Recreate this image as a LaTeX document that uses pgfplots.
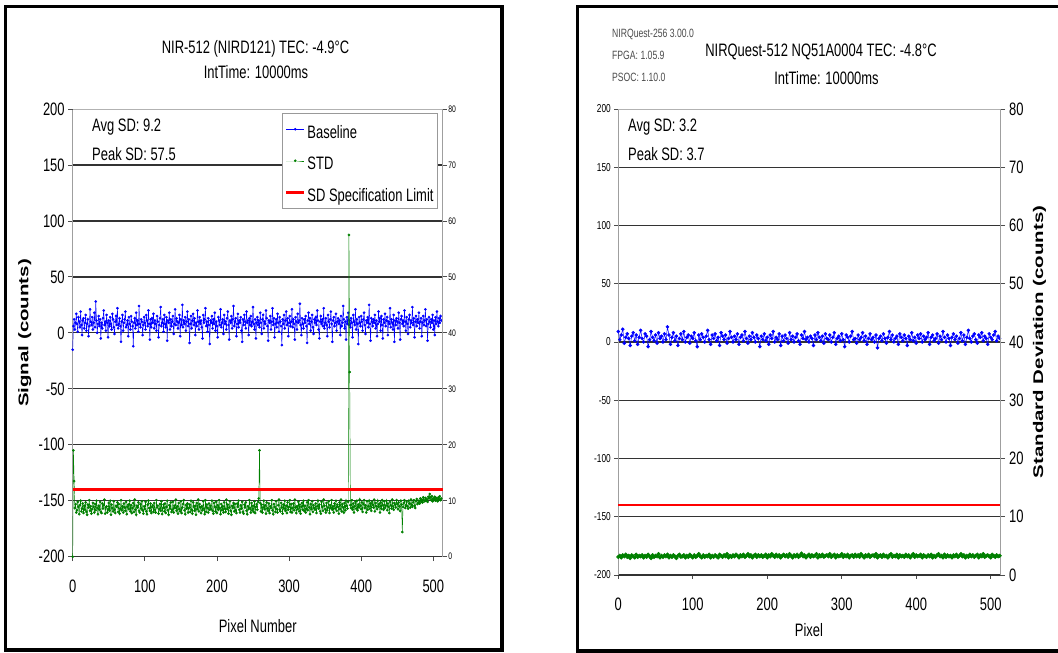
\documentclass[border=0pt]{standalone}
\usepackage{fontspec}
\setmainfont[FakeStretch=0.72]{Liberation Sans}
\newfontfamily\rotfont[FakeStretch=1.46]{Liberation Sans}
\usepackage{pgfplots}
\usepackage{pgfplotstable}
\pgfplotsset{compat=1.18}

% Left panel: baseline (counts), pixels 0..511
\pgfplotstableread[row sep=\\,header=false]{
-15\\6\\12\\3\\9\\17\\8\\1\\14\\10\\5\\19\\7\\-2\\11\\13\\
4\\9\\16\\2\\8\\12\\-3\\6\\21\\10\\7\\14\\3\\9\\18\\5\\
28\\11\\0\\8\\15\\6\\12\\-5\\9\\4\\13\\20\\7\\10\\2\\16\\
9\\-4\\11\\6\\14\\8\\3\\17\\12\\5\\-1\\10\\15\\7\\22\\4\\
8\\13\\6\\-8\\10\\16\\2\\9\\12\\19\\5\\7\\11\\-3\\14\\8\\
3\\15\\10\\6\\-12\\9\\13\\4\\18\\7\\11\\1\\24\\8\\5\\12\\
10\\-2\\7\\14\\9\\3\\16\\11\\6\\20\\8\\-6\\12\\5\\13\\9\\
17\\4\\11\\8\\2\\15\\10\\-4\\7\\13\\23\\6\\9\\12\\1\\16\\
8\\5\\14\\-7\\11\\9\\18\\3\\12\\6\\10\\15\\-1\\8\\21\\7\\
13\\10\\4\\9\\16\\-3\\12\\7\\25\\5\\11\\8\\14\\2\\10\\19\\
6\\12\\-9\\8\\15\\4\\11\\17\\7\\13\\-2\\9\\6\\20\\10\\3\\
14\\8\\11\\5\\-5\\16\\9\\12\\22\\6\\10\\1\\13\\7\\-10\\11\\
9\\15\\4\\12\\8\\18\\2\\10\\6\\-4\\14\\11\\7\\21\\5\\9\\
12\\-1\\16\\8\\10\\3\\13\\19\\7\\-6\\11\\9\\15\\4\\12\\24\\
6\\10\\13\\-3\\8\\17\\5\\11\\9\\14\\2\\-8\\12\\7\\16\\10\\
4\\19\\9\\11\\-2\\13\\7\\15\\6\\10\\23\\8\\3\\12\\-5\\9\\
14\\7\\11\\5\\18\\9\\-1\\12\\16\\4\\10\\8\\20\\13\\6\\-7\\
11\\9\\15\\3\\10\\22\\7\\13\\-4\\8\\12\\5\\17\\9\\1\\14\\
10\\6\\-11\\12\\8\\16\\4\\11\\19\\7\\13\\-3\\9\\15\\6\\10\\
21\\5\\12\\8\\-6\\14\\10\\3\\17\\9\\11\\26\\7\\-2\\13\\8\\
4\\12\\9\\15\\6\\-9\\11\\18\\8\\13\\2\\10\\16\\5\\-1\\12\\
9\\14\\7\\20\\11\\3\\-5\\10\\15\\8\\12\\6\\22\\4\\9\\13\\
7\\-3\\16\\10\\5\\12\\19\\8\\-8\\11\\14\\6\\9\\17\\2\\10\\
13\\8\\11\\-2\\15\\6\\9\\24\\12\\4\\10\\-6\\14\\8\\18\\7\\
11\\5\\13\\9\\-4\\16\\10\\7\\21\\3\\12\\8\\-10\\14\\9\\6\\
15\\10\\2\\12\\18\\7\\-1\\11\\9\\14\\5\\25\\8\\-7\\13\\10\\
6\\12\\9\\16\\4\\11\\-3\\8\\19\\10\\13\\2\\15\\7\\-5\\12\\
9\\17\\6\\11\\14\\-2\\10\\8\\22\\5\\12\\9\\3\\16\\-8\\11\\
7\\13\\10\\4\\18\\9\\-6\\12\\15\\8\\11\\6\\20\\10\\2\\14\\
8\\-1\\12\\16\\5\\11\\9\\23\\7\\13\\-4\\10\\15\\6\\12\\9\\
18\\4\\10\\13\\-3\\9\\15\\7\\11\\21\\6\\12\\-7\\8\\14\\10\\
5\\12\\9\\16\\3\\11\\-2\\14\\8\\19\\10\\6\\13\\9\\15\\11\\
}\leftbase

% Left panel: STD (counts, right axis), pixels 0..511
\pgfplotstableread[row sep=\\,header=false]{
0\\19\\13.5\\8.7\\9.4\\7.9\\8.3\\9.8\\8.9\\7.6\\9.2\\10.0\\8.1\\8.6\\9.5\\7.8\\
9.1\\8.4\\9.7\\8.0\\7.5\\9.3\\8.8\\10.1\\8.2\\9.0\\7.7\\8.5\\9.6\\8.9\\7.9\\9.4\\
8.3\\10.0\\8.7\\7.6\\9.1\\8.4\\9.8\\8.0\\7.8\\9.5\\8.6\\9.2\\10.2\\7.7\\8.8\\9.0\\
7.9\\8.5\\9.6\\8.2\\10.0\\7.5\\9.3\\8.7\\8.1\\9.9\\8.4\\7.8\\9.1\\8.9\\9.7\\8.0\\
9.4\\7.7\\8.6\\10.1\\8.3\\9.0\\7.9\\9.5\\8.8\\8.2\\9.8\\7.6\\8.9\\9.3\\8.5\\10.0\\
8.1\\9.2\\7.8\\8.7\\9.6\\8.0\\10.2\\8.4\\7.5\\9.1\\8.8\\9.7\\8.2\\7.9\\9.4\\8.6\\
9.9\\8.3\\7.7\\9.0\\8.5\\9.8\\8.1\\7.6\\9.3\\10.0\\8.7\\8.2\\9.5\\7.8\\8.9\\9.2\\
8.0\\9.6\\8.4\\7.9\\10.1\\8.8\\9.1\\7.7\\8.5\\9.4\\8.2\\9.9\\7.6\\8.7\\9.3\\8.1\\
9.5\\7.8\\8.9\\10.0\\8.3\\7.5\\9.2\\8.6\\9.7\\8.0\\8.4\\9.8\\7.9\\9.1\\8.7\\10.2\\
8.2\\9.0\\7.7\\9.6\\8.5\\8.1\\9.9\\7.8\\8.8\\9.4\\10.1\\8.3\\7.6\\9.2\\8.6\\9.5\\
7.9\\8.7\\9.3\\8.0\\10.0\\8.4\\7.7\\9.7\\8.9\\8.2\\9.1\\7.5\\9.6\\8.5\\10.2\\8.1\\
9.4\\8.8\\7.8\\9.0\\8.3\\9.9\\8.6\\7.6\\10.1\\8.0\\9.3\\8.7\\7.9\\9.5\\8.4\\9.1\\
8.5\\10.0\\8.2\\7.7\\9.6\\8.9\\8.1\\9.8\\7.8\\9.2\\8.4\\10.1\\8.7\\7.6\\9.4\\8.3\\
9.0\\7.9\\9.7\\8.6\\8.0\\10.2\\8.5\\9.3\\7.7\\8.8\\9.9\\8.2\\7.5\\9.1\\8.7\\9.6\\
8.1\\9.4\\8.3\\7.8\\9.5\\8.9\\10.0\\8.4\\7.9\\9.2\\8.6\\9.8\\8.0\\7.7\\9.3\\8.8\\
9.7\\8.2\\7.6\\9.0\\8.5\\10.1\\8.7\\7.9\\9.6\\8.3\\9.1\\8.0\\9.9\\7.8\\8.9\\9.4\\
8.4\\9.8\\10.4\\19\\9.6\\8.1\\9.3\\7.9\\8.8\\10.0\\8.5\\9.2\\7.7\\9.7\\8.6\\8.2\\
9.5\\7.8\\9.0\\8.7\\10.1\\8.3\\7.6\\9.4\\8.9\\8.0\\9.9\\8.5\\7.9\\9.2\\10.2\\8.4\\
8.1\\9.6\\8.8\\7.7\\9.3\\8.6\\10.0\\8.2\\9.1\\7.8\\9.7\\8.4\\8.9\\10.1\\8.0\\9.4\\
7.9\\8.7\\9.5\\8.3\\10.2\\8.8\\7.8\\9.0\\8.5\\9.8\\8.1\\9.3\\7.7\\8.9\\9.6\\8.4\\
10.0\\8.2\\9.1\\7.9\\8.6\\9.7\\8.3\\10.1\\8.8\\7.6\\9.4\\8.5\\9.9\\8.0\\9.2\\8.7\\
8.4\\9.5\\7.8\\9.0\\10.0\\8.6\\9.3\\8.1\\7.7\\9.8\\8.9\\8.2\\10.2\\9.1\\8.5\\7.9\\
9.6\\8.3\\8.8\\9.9\\7.8\\9.2\\8.7\\10.1\\8.4\\9.0\\7.9\\9.5\\8.6\\10.0\\8.2\\9.3\\
8.9\\7.7\\9.7\\8.5\\10.2\\8.1\\9.4\\8.8\\7.9\\9.6\\8.3\\10.0\\9.1\\8.6\\9.8\\57.5\\
33\\9.2\\8.7\\10.1\\8.4\\9.5\\7.9\\9.0\\9.8\\8.6\\10.0\\8.3\\9.3\\8.8\\10.2\\9.1\\
8.5\\9.7\\8.0\\9.4\\10.1\\8.7\\9.2\\7.9\\9.9\\8.4\\9.0\\10.0\\8.6\\9.5\\8.2\\9.8\\
9.3\\8.8\\10.2\\8.1\\9.6\\9.0\\8.5\\10.0\\8.9\\9.4\\7.9\\9.7\\8.6\\10.1\\9.2\\8.4\\
9.9\\8.7\\9.1\\10.0\\8.3\\9.5\\8.9\\7.8\\9.8\\9.2\\8.6\\10.2\\9.0\\8.4\\9.6\\9.3\\
8.8\\10.1\\9.4\\8.5\\9.7\\9.0\\8.2\\10.0\\9.3\\4.4\\8.9\\9.6\\10.1\\8.7\\9.2\\9.8\\
9.0\\8.6\\10.0\\9.5\\8.8\\10.2\\9.3\\8.9\\9.7\\10.1\\9.1\\8.7\\9.9\\10.3\\9.4\\9.6\\
10.0\\9.5\\10.4\\9.8\\10.2\\9.7\\10.6\\10.1\\9.9\\10.5\\10.0\\10.3\\9.8\\10.7\\10.4\\11.2\\
10.6\\10.1\\10.8\\9.9\\10.4\\10.2\\10.7\\10.0\\10.5\\10.3\\9.9\\10.6\\10.2\\10.8\\10.1\\10.4\\
}\leftstd

% Right panel: baseline (counts), pixels 0,2,...,512
\pgfplotstableread[row sep=\\,header=false]{
9\\2\\6\\11\\-1\\4\\7\\3\\-3\\5\\8\\1\\6\\-2\\4\\10\\
3\\0\\7\\5\\-4\\2\\9\\4\\1\\6\\-1\\8\\3\\5\\0\\7\\
2\\13\\6\\-2\\4\\8\\1\\5\\-3\\3\\7\\2\\9\\0\\4\\6\\
-1\\5\\3\\8\\1\\-4\\6\\2\\7\\4\\0\\5\\10\\2\\-2\\6\\
3\\7\\1\\4\\-3\\8\\5\\2\\6\\-1\\3\\9\\4\\0\\5\\2\\
7\\-2\\4\\6\\1\\9\\3\\-1\\5\\2\\8\\4\\0\\6\\3\\-4\\
5\\2\\7\\1\\4\\-2\\6\\3\\9\\0\\4\\2\\7\\-3\\5\\1\\
6\\3\\-1\\8\\2\\5\\0\\4\\7\\1\\-2\\6\\3\\9\\2\\4\\
0\\5\\3\\-3\\6\\2\\8\\4\\1\\5\\-1\\7\\3\\2\\6\\0\\
4\\8\\-2\\3\\5\\1\\7\\2\\-4\\6\\4\\0\\5\\9\\2\\3\\
-1\\6\\2\\4\\8\\1\\5\\-2\\3\\7\\2\\4\\0\\6\\-5\\3\\
5\\1\\7\\3\\-1\\4\\9\\2\\6\\0\\3\\5\\-2\\7\\4\\1\\
6\\3\\-3\\5\\2\\8\\1\\4\\-1\\6\\3\\7\\0\\5\\2\\4\\
8\\-2\\4\\6\\1\\3\\7\\-1\\5\\2\\9\\4\\0\\6\\3\\-3\\
4\\7\\2\\5\\-1\\3\\8\\1\\6\\-2\\4\\10\\3\\0\\5\\7\\
2\\-1\\6\\4\\8\\1\\5\\3\\-2\\7\\4\\2\\6\\9\\1\\5\\
3\\
}\rightbase

% Right panel: STD (counts, right axis), pixels 0,2,...,512
\pgfplotstableread[row sep=\\,header=false]{
3.1\\3.3\\3.0\\3.4\\3.2\\3.5\\3.1\\3.3\\2.9\\3.4\\3.2\\3.0\\3.5\\3.1\\3.3\\3.2\\
3.4\\3.0\\3.3\\3.1\\3.5\\3.2\\2.9\\3.4\\3.1\\3.3\\3.2\\3.6\\3.0\\3.3\\3.1\\3.4\\
3.2\\3.5\\3.0\\3.3\\3.1\\3.4\\3.2\\2.9\\3.3\\3.5\\3.1\\3.2\\3.4\\3.0\\3.3\\3.1\\
3.5\\3.2\\3.0\\3.4\\3.1\\3.3\\3.6\\3.2\\3.0\\3.4\\3.1\\3.3\\3.2\\3.5\\3.0\\3.3\\
3.1\\3.4\\3.2\\3.0\\3.5\\3.3\\3.1\\3.4\\3.2\\3.6\\3.0\\3.3\\3.1\\3.4\\3.2\\3.5\\
3.3\\3.0\\3.4\\3.2\\3.5\\3.1\\3.3\\3.6\\3.2\\3.4\\3.0\\3.3\\3.5\\3.1\\3.4\\3.2\\
3.4\\3.1\\3.3\\3.5\\3.0\\3.4\\3.2\\3.6\\3.3\\3.1\\3.5\\3.2\\3.4\\3.0\\3.3\\3.5\\
3.2\\3.4\\3.1\\3.6\\3.3\\3.0\\3.4\\3.2\\3.5\\3.1\\3.3\\3.7\\3.2\\3.4\\3.0\\3.3\\
3.5\\3.1\\3.4\\3.2\\3.3\\3.6\\3.0\\3.4\\3.2\\3.5\\3.1\\3.3\\3.4\\3.2\\3.6\\3.1\\
3.3\\3.5\\3.0\\3.4\\3.2\\3.3\\3.6\\3.1\\3.4\\3.2\\3.5\\3.0\\3.3\\3.4\\3.1\\3.5\\
3.2\\3.4\\3.1\\3.6\\3.3\\3.0\\3.4\\3.2\\3.5\\3.1\\3.3\\3.4\\3.2\\3.6\\3.0\\3.3\\
3.4\\3.1\\3.5\\3.2\\3.3\\3.0\\3.4\\3.6\\3.1\\3.3\\3.2\\3.5\\3.0\\3.4\\3.2\\3.3\\
3.1\\3.5\\3.2\\3.4\\3.0\\3.3\\3.6\\3.1\\3.4\\3.2\\3.3\\3.5\\3.0\\3.4\\3.2\\3.1\\
3.4\\3.2\\3.5\\3.0\\3.3\\3.1\\3.4\\3.6\\3.2\\3.3\\3.0\\3.5\\3.1\\3.4\\3.2\\3.3\\
3.0\\3.4\\3.2\\3.5\\3.1\\3.3\\3.6\\3.2\\3.4\\3.0\\3.3\\3.1\\3.5\\3.2\\3.4\\3.1\\
3.3\\3.5\\3.0\\3.4\\3.2\\3.6\\3.1\\3.3\\3.4\\3.2\\3.0\\3.5\\3.3\\3.1\\3.4\\3.2\\
3.3\\
}\rightstd

\newcommand\fbig{\fontsize{18}{20}\selectfont}
\definecolor{stdgreen}{RGB}{0,128,0}
\definecolor{basblue}{RGB}{0,0,255}

\pgfplotsset{
  panel/.style={scale only axis, anchor=south west, xtick={0,100,...,500},
    tick align=outside, /pgf/number format/assume math mode=true,
    axis line style={gray!75, line width=0.8pt},
    tick style={gray!60!black, line width=0.8pt}},
  primary/.style={panel, axis x line*=bottom, axis y line*=left,
    ymin=-200, ymax=200, ytick={-200,-150,...,150},
    extra y ticks={200},
    extra y tick style={major grid style={gray!60, line width=0.8pt}},
    ymajorgrids, major grid style={black!80, line width=1.3pt},
    x axis line style={black!80, line width=1.3pt},
    xticklabel style={font=\fbig, yshift=-15pt}},
  secondary/.style={panel, axis x line=none, axis y line*=right,
    ymin=0, ymax=80, ytick={0,10,...,80}, clip=false},
  dots/.style={#1, line width=0.45pt, mark=*, mark size=1.1pt},
  dotsr/.style={#1, line width=0.5pt, mark=*, mark size=1.5pt},
  dotsg/.style={#1, line width=0.5pt, mark=*, mark size=1.8pt},
}

\begin{document}
\begin{tikzpicture}[x=1pt,y=1pt]
\useasboundingbox (0,0) rectangle (1058,653);
\clip (0,0) rectangle (1058,653);
\fill[white] (0,0) rectangle (1058,653);

% ---------------- Left panel ----------------
\begin{axis}[primary, at={(72.7pt,96.3pt)}, width=370pt, height=447.7pt,
  xmin=0, xmax=513, major tick length=4.5pt,
  yticklabel style={font=\fbig}]
\addplot[dots=basblue] table[x expr=\coordindex, y index=0] {\leftbase};
\end{axis}
\begin{axis}[secondary, at={(72.7pt,96.3pt)}, width=370pt, height=447.7pt,
  xmin=0, xmax=513, major tick length=4.5pt,
  yticklabel style={font=\fontsize{9.5}{10}\selectfont, inner xsep=1pt},
  legend cell align=left,
  legend image code/.code={\draw[#1, mark repeat=2, mark phase=2]
     plot coordinates {(0pt,0pt) (9pt,0pt) (18pt,0pt)};},
  legend style={at={(axis description cs:0.9873,0.991)}, anchor=north east,
    draw=gray!80, line width=1pt, fill=white, font=\fbig,
    inner xsep=2pt, inner ysep=0pt, row sep=0pt, column sep=0pt,
    nodes={inner xsep=2pt, inner ysep=7pt, text height=17.5pt, text depth=0pt}}]
\addlegendimage{dots=basblue}
\addlegendentry{Baseline}
\addplot[dots=stdgreen] table[x expr=\coordindex, y index=0] {\leftstd};
\addlegendentry{STD}
\addplot[red, line width=2.5pt] coordinates {(0,12) (513,12)};
\addlegendentry{SD Specification Limit}
\end{axis}

\node[font=\fbig, anchor=base] at (255.5pt,599pt) {NIR-512 (NIRD121) TEC: -4.9°C};
\node[font=\fbig, anchor=base] at (256pt,574pt) {IntTime: 10000ms};
\node[font=\fbig, anchor=base west, inner sep=0pt] at (92pt,521pt) {Avg SD: 9.2};
\node[font=\fbig, anchor=base west, inner sep=0pt] at (92pt,492pt) {Peak SD: 57.5};
\node[font=\fbig, anchor=base] at (257.7pt,20pt) {Pixel Number};
\node[font=\rotfont\fontsize{14}{16}\selectfont\bfseries, rotate=90, anchor=base, inner sep=0pt]
  at (28.5pt,320pt) {Signal (counts)};
\draw[line width=3.5pt] (5.5,3) rectangle (502,646.5);

% ---------------- Right panel ----------------
\begin{axis}[primary, at={(618.3pt,78pt)}, width=381.7pt, height=466pt,
  xmin=0, xmax=512.5, major tick length=4pt,
  yticklabel style={font=\fontsize{11.5}{12}\selectfont}]
\addplot[dotsr=basblue] table[x expr=\coordindex*2, y index=0] {\rightbase};
\end{axis}
\begin{axis}[secondary, at={(618.3pt,78pt)}, width=381.7pt, height=466pt,
  xmin=0, xmax=512.5, major tick length=5pt,
  yticklabel style={font=\fbig, inner xsep=4pt}]
\addplot[dotsg=stdgreen] table[x expr=\coordindex*2, y index=0] {\rightstd};
\addplot[red, line width=2.5pt] coordinates {(0,12) (512.5,12)};
\end{axis}

\node[font=\fontsize{12}{13}\selectfont, text=black!70, anchor=base west, inner sep=0pt] at (612pt,615pt) {NIRQuest-256 3.00.0};
\node[font=\fontsize{12}{13}\selectfont, text=black!70, anchor=base west, inner sep=0pt] at (612pt,593pt) {FPGA: 1.05.9};
\node[font=\fontsize{12}{13}\selectfont, text=black!70, anchor=base west, inner sep=0pt] at (612pt,571pt) {PSOC: 1.10.0};
\node[font=\fbig, anchor=base] at (821pt,596pt) {NIRQuest-512 NQ51A0004 TEC: -4.8°C};
\node[font=\fbig, anchor=base] at (826.5pt,568pt) {IntTime: 10000ms};
\node[font=\fbig, anchor=base west, inner sep=0pt] at (628pt,521pt) {Avg SD: 3.2};
\node[font=\fbig, anchor=base west, inner sep=0pt] at (628pt,492pt) {Peak SD: 3.7};
\node[font=\fbig, anchor=base] at (809pt,16pt) {Pixel};
\node[font=\rotfont\fontsize{14}{16}\selectfont\bfseries, rotate=90, anchor=base, inner sep=0pt]
  at (1043pt,311pt) {Standard Deviation (counts)};
\draw[line width=3.5pt] (577.5,2) rectangle (1080,646.5);
\end{tikzpicture}
\end{document}
